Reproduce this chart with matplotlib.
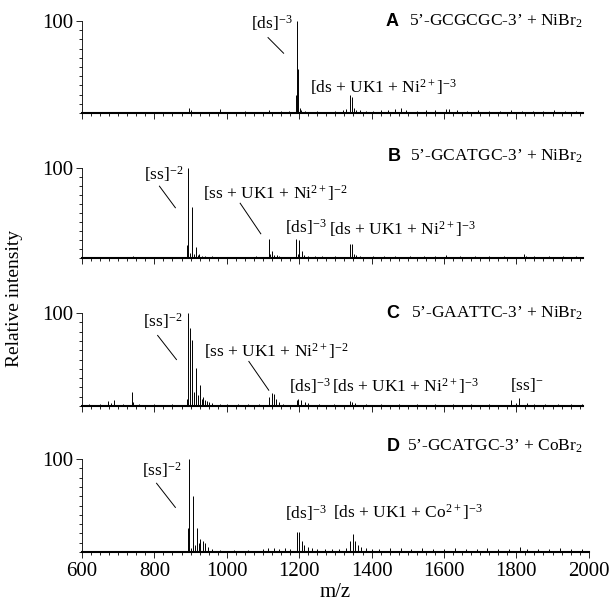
import matplotlib.pyplot as plt
from matplotlib.ticker import MultipleLocator, FixedLocator

plt.rcParams['font.family'] = ['Liberation Serif', 'DejaVu Serif']
plt.rcParams['mathtext.fontset'] = 'custom'
plt.rcParams['mathtext.rm'] = 'Liberation Serif'
plt.rcParams['mathtext.it'] = 'Liberation Serif:italic'

# peak lists (m/z, relative intensity)
a_mz = [896, 900, 981, 1050, 1116, 1150, 1172, 1191, 1193, 1197, 1201, 1206, 1215, 1250, 1300,
        1320, 1330, 1341, 1347, 1352, 1358, 1368, 1385, 1405, 1425, 1445, 1465, 1480, 1495, 1525,
        1550, 1575, 1605, 1615, 1635, 1665, 1695, 1725, 1755, 1785, 1815, 1845, 1875, 1905, 1935, 1965]
a_int = [6, 3, 4, 2, 3, 2, 2, 20, 100, 48, 6, 3, 2, 2, 2,
         3, 4, 20, 17, 6, 3, 3, 2, 2, 3, 3, 4, 5, 3, 2,
         3, 3, 4, 4, 3, 2, 3, 2, 2, 3, 2, 2, 2, 3, 2, 2]

b_mz = [680, 741, 800, 860, 891, 894, 898, 905, 910, 916, 920, 924, 932, 940, 960, 1000, 1050,
        1080, 1116, 1120, 1125, 1131, 1138, 1145, 1192, 1196, 1200, 1207, 1214, 1224, 1244, 1264,
        1300, 1341, 1347, 1352, 1358, 1368, 1405, 1435, 1465, 1505, 1545, 1575, 1605, 1645, 1685,
        1725, 1765, 1821, 1826, 1850, 1890, 1930, 1965]
b_int = [1, 2, 1, 1, 15, 100, 6, 57, 4, 12, 3, 4, 2, 2, 2, 1, 1,
         2, 21, 5, 8, 3, 3, 2, 21, 5, 20, 8, 3, 2, 2, 2,
         2, 16, 16, 4, 3, 2, 2, 2, 2, 2, 2, 2, 3, 2, 2,
         2, 2, 5, 2, 2, 2, 2, 2]

c_mz = [620, 650, 671, 680, 688, 712, 738, 742, 757, 800, 850, 880, 889, 893, 899, 905, 910,
        916, 921, 927, 931, 935, 940, 946, 952, 960, 980, 1000, 1030, 1060, 1090, 1116, 1124,
        1130, 1136, 1144, 1155, 1193, 1198, 1206, 1215, 1224, 1255, 1295, 1341, 1347, 1354, 1385,
        1425, 1475, 1525, 1575, 1625, 1675, 1725, 1786, 1800, 1808, 1830, 1850, 1880, 1915, 1950, 1980]
c_int = [2, 2, 5, 3, 6, 2, 15, 4, 2, 2, 2, 1, 8, 100, 84, 71, 15,
         41, 12, 23, 8, 10, 6, 5, 4, 3, 2, 2, 2, 2, 2, 10, 14,
         13, 8, 4, 2, 7, 8, 6, 4, 3, 2, 2, 5, 4, 3, 2,
         2, 2, 2, 2, 2, 2, 2, 7, 3, 9, 3, 2, 2, 2, 2, 2]

d_mz = [640, 700, 760, 820, 870, 892, 895, 901, 907, 912, 918, 922, 926, 933, 940, 948, 960,
        980, 1020, 1060, 1100, 1115, 1130, 1145, 1160, 1175, 1193, 1200, 1208, 1214, 1224, 1235,
        1250, 1270, 1290, 1310, 1330, 1340, 1349, 1355, 1363, 1372, 1385, 1400, 1420, 1450, 1480,
        1510, 1540, 1570, 1600, 1630, 1660, 1690, 1720, 1750, 1780, 1809, 1830, 1860, 1890, 1920,
        1950, 1980]
d_int = [1, 1, 1, 1, 1, 26, 100, 4, 60, 8, 26, 10, 14, 12, 10, 5, 3,
         2, 2, 2, 3, 4, 4, 3, 4, 3, 22, 21, 12, 7, 5, 4,
         3, 3, 3, 3, 4, 12, 19, 12, 7, 5, 4, 3, 3, 4, 4,
         3, 4, 3, 3, 4, 3, 3, 4, 3, 3, 5, 3, 3, 3, 4,
         3, 3]

letters = ['A', 'B', 'C', 'D']
titles = ["5\u2019-GCGCGC-3\u2019 + NiBr$_2$", "5\u2019-GCATGC-3\u2019 + NiBr$_2$",
          "5\u2019-GAATTC-3\u2019 + NiBr$_2$", "5\u2019-GCATGC-3\u2019 + CoBr$_2$"]
letter_x = [1440, 1446, 1440, 1442]
title_y = [100, 113, 100, 114]

# (text, x, y) labels and leader lines (x0, y0, x1, y1)
labels = [
    [("[ds]$^{-3}$", 1067, 98), ("[ds + UK1 + Ni$^{2+}$]$^{-3}$", 1229, 28)],
    [("[ss]$^{-2}$", 770, 94), ("[ss + UK1 + Ni$^{2+}$]$^{-2}$", 933, 72),
     ("[ds]$^{-3}$", 1162, 34), ("[ds + UK1 + Ni$^{2+}$]$^{-3}$", 1283, 32)],
    [("[ss]$^{-2}$", 768, 91), ("[ss + UK1 + Ni$^{2+}$]$^{-2}$", 938, 59),
     ("[ds]$^{-3}$", 1171, 22), ("[ds + UK1 + Ni$^{2+}$]$^{-3}$", 1290, 22),
     ("[ss]$^{-}$", 1783, 23)],
    [("[ss]$^{-2}$", 766, 88), ("[ds]$^{-3}$", 1160, 42),
     ("[ds + UK1 + Co$^{2+}$]$^{-3}$", 1293, 43)],
]
leaders = [
    [(1114, 82, 1157, 65)],
    [(814, 80, 858, 56), (1037, 61, 1094, 27)],
    [(809, 76, 861, 50), (1061, 48, 1116, 17)],
    [(806, 74, 858, 48)],
]

spectra = [(a_mz, a_int), (b_mz, b_int), (c_mz, c_int), (d_mz, d_int)]
bottoms = [0.815, 0.5777, 0.3355, 0.0966]
heights = [0.1506, 0.147, 0.152, 0.152]

fig = plt.figure(figsize=(6.15, 6.11), dpi=100)

for i in range(4):
    last = i == 3
    xmax = 2000 if last else 1985
    w = 0.824 * (xmax - 600) / 1400
    ax = fig.add_axes([0.1333, bottoms[i], w, heights[i]])
    mz, inten = spectra[i]
    ax.vlines(mz, 0, inten, color='black', lw=0.7)
    ax.set_xlim(600, xmax)
    ax.set_ylim(0, 100)
    for s in ['top', 'right']:
        ax.spines[s].set_visible(False)
    ax.spines['bottom'].set_linewidth(1.5)
    ax.spines['left'].set_linewidth(0.6)
    ax.xaxis.set_major_locator(MultipleLocator(200))
    ax.xaxis.set_minor_locator(MultipleLocator(25))
    ax.yaxis.set_major_locator(FixedLocator([100]))
    ax.yaxis.set_minor_locator(MultipleLocator(10))
    ax.tick_params(axis='both', which='major', length=4, width=0.6, labelsize=15)
    ax.tick_params(axis='both', which='minor', length=2.5, width=0.6)
    ax.tick_params(axis='y', pad=2)
    ax.tick_params(axis='x', pad=3)
    if not last:
        ax.tick_params(axis='x', labelbottom=False)
    else:
        ax.set_xlabel('m/z', fontsize=15, labelpad=2)

    ax.text(letter_x[i], title_y[i], letters[i], fontsize=13, fontweight='bold',
            family=['Liberation Sans'], va='center', ha='left')
    ax.text(1983, title_y[i], titles[i], fontsize=12.5, va='center', ha='right')
    for txt, x, y in labels[i]:
        ax.text(x, y, txt, fontsize=12.5, va='center', ha='left')
    for x0, y0, x1, y1 in leaders[i]:
        ax.plot([x0, x1], [y0, y1], color='black', lw=0.7, clip_on=False)

fig.text(0.024, 0.512, 'Relative intensity', rotation=90, fontsize=14,
         va='center', ha='center')

fig.savefig('out.png', dpi=100)
